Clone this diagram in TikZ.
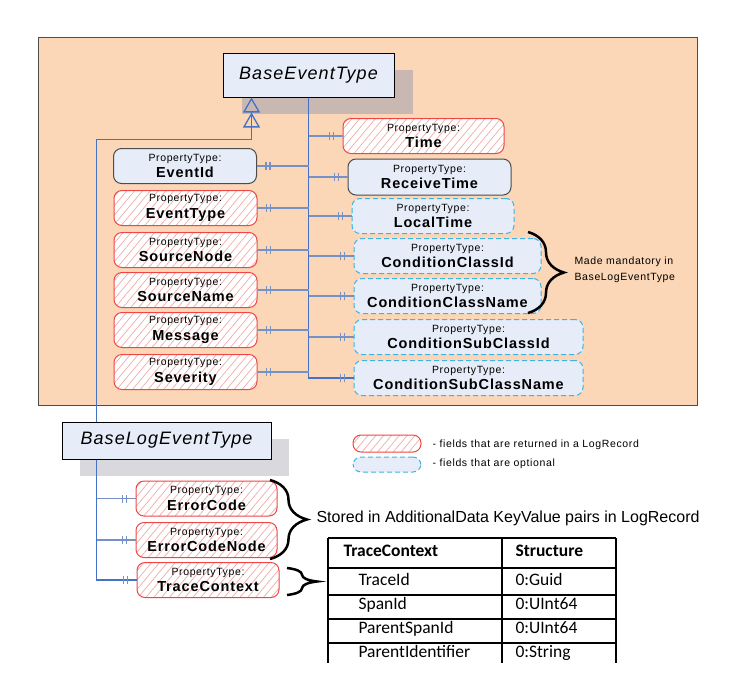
\documentclass[tikz,border=0pt]{standalone}
\usepackage{fontspec}
\setmainfont{Liberation Sans}
\newfontfamily\spacedfont[LetterSpace=6]{Liberation Sans}
\newfontfamily\tablefont{Carlito}
\usetikzlibrary{arrows.meta,patterns.meta,shadows,decorations.pathreplacing,decorations.markings}

\definecolor{peach}{RGB}{251,214,183}
\definecolor{boxblue}{RGB}{230,237,248}
\definecolor{fieldred}{RGB}{240,70,70}
\definecolor{hatchred}{RGB}{240,170,170}
\definecolor{optcyan}{RGB}{60,180,230}
\definecolor{trunkblue}{RGB}{68,114,196}
\definecolor{branchblue}{RGB}{118,146,196}
\definecolor{shadowa}{RGB}{201,184,178}
\definecolor{shadowb}{RGB}{216,216,221}

\newcommand{\ptfont}{\spacedfont\mdseries\fontsize{10.5}{16.5}\selectfont}
\newcommand{\pnfont}{\spacedfont\bfseries\fontsize{14.5}{16.5}\selectfont}

\begin{document}
\begin{tikzpicture}[x=1pt,y=-1pt,
    field/.style={rounded corners=8pt,line width=1pt,inner sep=0pt,minimum height=35pt,align=center,font=\pnfont},
    retfield/.style={field,draw=fieldred,preaction={fill=white},pattern={Lines[angle=50,distance=6pt,line width=0.7pt]},pattern color=hatchred},
    optfield/.style={field,draw=optcyan,fill=boxblue,dash pattern=on 5pt off 3pt},
    mandfield/.style={field,draw=black!70,fill=boxblue},
    classbox/.style={draw=black,line width=1pt,fill=boxblue,inner sep=0pt,font=\spacedfont\itshape\fontsize{18}{20}\selectfont},
    onebar/.style={decoration={markings,
        mark=at position -9pt with {\draw[branchblue,line width=1.5pt] (0,-4pt) -- (0,4pt);},
        mark=at position -13pt with {\draw[branchblue,line width=1.5pt] (0,-4pt) -- (0,4pt);}},
      postaction={decorate}},
    trunk/.style={draw=trunkblue,line width=1.8pt},
    branch/.style={draw=branchblue,line width=1.8pt,onebar},
    lowtrunk/.style={draw=trunkblue,line width=1.3pt},
    lowbranch/.style={draw=branchblue,line width=1.5pt,onebar},
    inheritline/.style={draw=trunkblue,line width=1.3pt,-{Triangle[open,length=15pt,width=17pt] Triangle[open,length=15pt,width=17pt]}},
    curly/.style={decorate,decoration={brace,amplitude=#1},line width=2.5pt},
    tabline/.style={line width=1.2pt},
    tabhead/.style={anchor=base west,font=\tablefont\bfseries\fontsize{17.5}{20}\selectfont},
    tabcell/.style={anchor=base west,font=\tablefont\fontsize{17.5}{20}\selectfont},
]
    \useasboundingbox (0,0) rectangle (755,678);

    % event type area
    \draw[draw=black!70,line width=1pt,fill=peach] (38,37) rectangle (697,405);

    \node[classbox,minimum width=171pt,minimum height=44pt,general shadow={fill=shadowa,shadow xshift=19pt,shadow yshift=-17pt}] (bet) at (308.5,75) {BaseEventType};

    \node[mandfield,minimum width=143pt] (eid) at (185,166) {{\ptfont PropertyType:}\\EventId};
    \node[retfield,minimum width=143pt] (etype) at (185.5,208) {{\ptfont PropertyType:}\\EventType};
    \node[retfield,minimum width=143pt] (snode) at (185.5,250) {{\ptfont PropertyType:}\\SourceNode};
    \node[retfield,minimum width=143pt] (sname) at (185.5,290) {{\ptfont PropertyType:}\\SourceName};
    \node[retfield,minimum width=143pt] (msg) at (185.5,330) {{\ptfont PropertyType:}\\Message};
    \node[retfield,minimum width=143pt] (sev) at (185.5,372) {{\ptfont PropertyType:}\\Severity};

    \node[retfield,minimum width=161pt] (time) at (423.5,136) {{\ptfont PropertyType:}\\Time};
    \node[mandfield,minimum width=163pt,minimum height=36pt] (rtime) at (429.5,177) {{\ptfont PropertyType:}\\ReceiveTime};
    \node[optfield,minimum width=162pt] (ltime) at (433,216) {{\ptfont PropertyType:}\\LocalTime};
    \node[optfield,minimum width=187pt] (ccid) at (447.5,256) {{\ptfont PropertyType:}\\ConditionClassId};
    \node[optfield,minimum width=187pt] (ccname) at (447.5,296) {{\ptfont PropertyType:}\\ConditionClassName};
    \node[optfield,minimum width=229pt] (cscid) at (468.5,337) {{\ptfont PropertyType:}\\ConditionSubClassId};
    \node[optfield,minimum width=229pt] (cscname) at (468.5,378) {{\ptfont PropertyType:}\\ConditionSubClassName};

    \draw[trunk,onebar] (bet.south) |- (cscname.west);
    \draw[branch] (bet.south |- time.west) -- (time.west);
    \draw[branch] (bet.south |- rtime.west) -- (rtime.west);
    \draw[branch] (bet.south |- ltime.west) -- (ltime.west);
    \draw[branch] (bet.south |- ccid.west) -- (ccid.west);
    \draw[branch] (bet.south |- ccname.west) -- (ccname.west);
    \draw[branch] (bet.south |- cscid.west) -- (cscid.west);
    \draw[branch] (bet.south |- eid.east) -- (eid.east);
    \draw[branch] (bet.south |- etype.east) -- (etype.east);
    \draw[branch] (bet.south |- snode.east) -- (snode.east);
    \draw[branch] (bet.south |- sname.east) -- (sname.east);
    \draw[branch] (bet.south |- msg.east) -- (msg.east);
    \draw[branch] (bet.south |- sev.east) -- (sev.east);

    \draw[curly=36pt] (528,232) -- (528,313);
    \node[anchor=west,align=left,font=\spacedfont\fontsize{10.5}{16}\selectfont] (mandnote) at (571,270) {Made mandatory in\\BaseLogEventType};

    % log event type
    \node[classbox,minimum width=209pt,minimum height=37pt,general shadow={fill=shadowb,shadow xshift=18pt,shadow yshift=-17pt}] (blet) at (166.5,440.5) {BaseLogEventType};

    \coordinate (isatop) at ([xshift=29pt]bet.south west);
    \coordinate (isafoot) at ([xshift=35pt]blet.north west);
    \draw[inheritline] (isafoot) |- ([yshift=-42pt]isatop) -- (isatop);

    \node[retfield,minimum width=141pt] (ecode) at (206.5,498.5) {{\ptfont PropertyType:}\\ErrorCode};
    \node[retfield,minimum width=141pt] (ecnode) at (206.5,540) {{\ptfont PropertyType:}\\ErrorCodeNode};
    \node[retfield,minimum width=142pt] (tctx) at (208,580) {{\ptfont PropertyType:}\\TraceContext};

    \coordinate (logtrunk) at ([xshift=35pt]blet.south west);
    \draw[lowtrunk,onebar] (logtrunk) |- (tctx.west);
    \draw[lowbranch] (logtrunk |- ecode.west) -- (ecode.west);
    \draw[lowbranch] (logtrunk |- ecnode.west) -- (ecnode.west);

    \draw[curly=37pt] (270,480) -- (270,559);
    \node[anchor=west,font=\fontsize{16}{18}\selectfont] (storednote) at (313,518) {Stored in AdditionalData KeyValue pairs in LogRecord};
    \draw[curly=30pt] (287,568) -- (287,595);

    % legend
    \node[retfield,minimum width=68pt,minimum height=17pt] (legret) at (387,443.5) {};
    \node[optfield,minimum width=68pt,minimum height=15pt] (legopt) at (387,464.5) {};
    \node[anchor=west,font=\spacedfont\fontsize{10.5}{12}\selectfont] (legrettxt) at (429,445) {- fields that are returned in a LogRecord};
    \node[anchor=west,font=\spacedfont\fontsize{10.5}{12}\selectfont] (legopttxt) at (429,464) {- fields that are optional};

    % trace context table
    \draw[tabline] (328,538) -- (616,538);
    \draw[tabline] (328,568) -- (616,568);
    \draw[tabline] (328,595) -- (616,595);
    \draw[tabline] (328,619) -- (616,619);
    \draw[tabline] (328,643) -- (616,643);
    \draw[tabline] (328,538) -- (328,663);
    \draw[tabline] (502,538) -- (502,663);
    \draw[tabline] (616,538) -- (616,663);
    \node[tabhead] (thkey) at (340,556.5) {TraceContext};
    \node[tabhead] (thval) at (512,556.5) {Structure};
    \node[tabcell] (tid) at (355,585) {TraceId};
    \node[tabcell] (tidv) at (512,585) {0:Guid};
    \node[tabcell] (sid) at (355,609) {SpanId};
    \node[tabcell] (sidv) at (512,609) {0:UInt64};
    \node[tabcell] (psid) at (355,633) {ParentSpanId};
    \node[tabcell] (psidv) at (512,633) {0:UInt64};
    \node[tabcell] (pid) at (355,657.5) {ParentIdentifier};
    \node[tabcell] (pidv) at (512,657.5) {0:String};
\end{tikzpicture}
\end{document}
